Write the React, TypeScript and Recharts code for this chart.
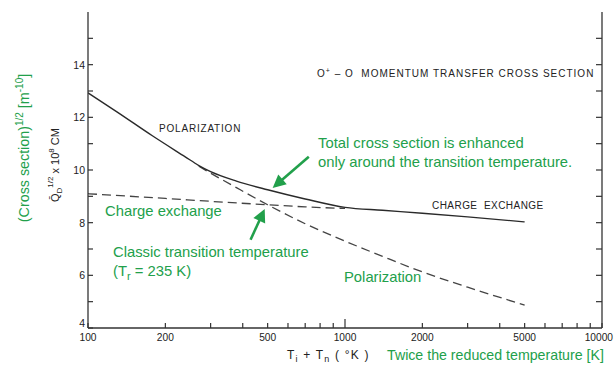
import React from 'react';
import { ComposedChart, Line, XAxis, YAxis, ReferenceLine } from 'recharts';

// ---- data ----
const totalT = [100, 130, 178, 239, 270, 300, 378, 500, 700, 1000, 1400, 2000, 3000, 5000];
const totalQ = [12.93, 12.2, 11.3, 10.5, 10.17, 9.94, 9.58, 9.25, 8.9, 8.58, 8.47, 8.36, 8.22, 8.03];

const chargeT = [100, 200, 300, 500, 700, 1000];
const chargeQ = [9.1, 8.92, 8.81, 8.68, 8.6, 8.54];

const polT = [270, 300, 378, 500, 700, 1000, 1400, 2000, 3000, 5000];
const polQ = [10.14, 9.88, 9.33, 8.68, 7.96, 7.3, 6.72, 6.13, 5.55, 4.87];

const xTicks = [100, 200, 300, 400, 500, 600, 700, 800, 900, 1000, 2000, 3000, 4000, 5000, 6000, 7000, 8000, 9000, 10000];
const xLabels = [100, 200, 500, 1000, 2000, 5000, 10000];
const yTicks = [4, 5, 6, 7, 8, 9, 10, 11, 12, 13, 14, 15, 16];
const yLabels = [4, 6, 8, 10, 12, 14];

// arrows: [tailT, tailQ, headT, headQ]
const arrowTotal = [723, 10.5, 523, 9.32];
const arrowTransition = [429, 7.35, 487, 8.52];

const GREEN = '#22a04b';
const INK = '#333333';
const TICKFONT = '"Liberation Sans", Arial, sans-serif';

const totalData = totalT.map((t, i) => ({ t, q: totalQ[i] }));
const chargeData = chargeT.map((t, i) => ({ t, q: chargeQ[i] }));
const polData = polT.map((t, i) => ({ t, q: polQ[i] }));

const BottomTick = (props: any) => {
  const { x, y, payload } = props;
  const v = payload.value;
  const len = v === 1000 ? 9 : 5;
  const isLast = v === 10000;
  return (
    <g>
      <line x1={x} y1={y} x2={x} y2={y - len} stroke={INK} strokeWidth={1.2} />
      {xLabels.includes(v) && (
        <text
          x={isLast ? 613 : x}
          y={y + 13}
          textAnchor={isLast ? 'end' : 'middle'}
          fontSize={10.2}
          fontFamily={TICKFONT}
          fill="#222"
        >
          {v}
        </text>
      )}
    </g>
  );
};

const TopTick = (props: any) => {
  const { x, y } = props;
  return <line x1={x} y1={y} x2={x} y2={y + 5} stroke={INK} strokeWidth={1.2} />;
};

const LeftTick = (props: any) => {
  const { x, y, payload } = props;
  const v = payload.value;
  if (v === 16) return <g />;
  return (
    <g>
      <line x1={x} y1={y} x2={x + 5} y2={y} stroke={INK} strokeWidth={1.2} />
      {yLabels.includes(v) && (
        <text x={x - 3} y={v === 4 ? y - 1 : y + 4} textAnchor="end" fontSize={10.5} fontFamily={TICKFONT} fill="#222">
          {v}
        </text>
      )}
    </g>
  );
};

const RightTick = (props: any) => {
  const { x, y, payload } = props;
  if (payload.value === 16 || payload.value === 4) return <g />;
  return <line x1={x} y1={y} x2={x - 6} y2={y} stroke={INK} strokeWidth={1.2} />;
};

const Arrow = (props: any) => {
  const { x1, y1, x2, y2 } = props;
  const dx = x2 - x1;
  const dy = y2 - y1;
  const L = Math.hypot(dx, dy) || 1;
  const ux = dx / L;
  const uy = dy / L;
  const hl = 13;
  const hw = 6.5;
  const bx = x2 - ux * hl;
  const by = y2 - uy * hl;
  const pts = `${x2},${y2} ${bx - uy * hw},${by + ux * hw} ${bx + uy * hw},${by - ux * hw}`;
  return (
    <g>
      <line x1={x1} y1={y1} x2={bx + ux * 2} y2={by + uy * 2} stroke={GREEN} strokeWidth={2.6} />
      <polygon points={pts} fill={GREEN} />
    </g>
  );
};

export default function App() {
  const greenFont = '"Liberation Sans", Arial, sans-serif';
  const blackFont = '"Liberation Sans", Arial, sans-serif';
  const gSize = 14.8;
  return (
    <div style={{ position: 'absolute', left: 0, top: 0, width: 615, height: 365, background: '#fff' }}>
      <ComposedChart width={615} height={365} margin={{ top: 12, right: 0, bottom: 0, left: 0 }}>
        <XAxis
          dataKey="t"
          type="number"
          scale="log"
          domain={[100, 10000]}
          ticks={xTicks}
          interval={0}
          height={37}
          tickSize={0}
          tickMargin={0}
          axisLine={{ stroke: INK, strokeWidth: 1.3 }}
          tickLine={false}
          tick={(p: any) => <BottomTick {...p} />}
          allowDataOverflow
        />
        <XAxis
          xAxisId="top"
          orientation="top"
          dataKey="t"
          type="number"
          scale="log"
          domain={[100, 10000]}
          ticks={xTicks.filter((v) => v !== 100 && v !== 10000)}
          interval={0}
          height={0}
          tickSize={0}
          tickMargin={0}
          axisLine={{ stroke: INK, strokeWidth: 1.3 }}
          tickLine={false}
          tick={(p: any) => <TopTick {...p} />}
          allowDataOverflow
        />
        <YAxis
          type="number"
          domain={[4, 16]}
          ticks={yTicks}
          interval={0}
          width={88}
          tickSize={0}
          tickMargin={0}
          axisLine={{ stroke: INK, strokeWidth: 1.3 }}
          tickLine={false}
          tick={(p: any) => <LeftTick {...p} />}
          allowDataOverflow
        />
        <YAxis
          yAxisId="right"
          orientation="right"
          type="number"
          domain={[4, 16]}
          ticks={yTicks}
          interval={0}
          width={13}
          tickSize={0}
          tickMargin={0}
          axisLine={{ stroke: INK, strokeWidth: 1.3 }}
          tickLine={false}
          tick={(p: any) => <RightTick {...p} />}
          allowDataOverflow
        />
        <Line data={chargeData} dataKey="q" stroke="#444" strokeWidth={1.3} strokeDasharray="9 5" dot={false} type="monotone" isAnimationActive={false} />
        <Line data={polData} dataKey="q" stroke="#444" strokeWidth={1.3} strokeDasharray="9 5" dot={false} type="monotone" isAnimationActive={false} />
        <Line data={totalData} dataKey="q" stroke="#2a2a2a" strokeWidth={1.4} dot={false} type="monotone" isAnimationActive={false} />
        <ReferenceLine
          segment={[{ x: arrowTotal[0], y: arrowTotal[1] }, { x: arrowTotal[2], y: arrowTotal[3] }]}
          shape={(p: any) => <Arrow {...p} />}
          ifOverflow="visible"
        />
        <ReferenceLine
          segment={[{ x: arrowTransition[0], y: arrowTransition[1] }, { x: arrowTransition[2], y: arrowTransition[3] }]}
          shape={(p: any) => <Arrow {...p} />}
          ifOverflow="visible"
        />
      </ComposedChart>
      <svg width={615} height={365} style={{ position: 'absolute', left: 0, top: 0, pointerEvents: 'none' }}>
        {/* black original labels */}
        <text x={317} y={77} fontSize={10} fontFamily={blackFont} fill="#222" letterSpacing={1.0} style={{ whiteSpace: 'pre' }}>
          O<tspan dy={-4} fontSize={7}>+</tspan>
          <tspan dy={4}>{' – O  MOMENTUM TRANSFER CROSS SECTION'}</tspan>
        </text>
        <text x={159} y={132} fontSize={10} fontFamily={blackFont} fill="#222" letterSpacing={0.8}>POLARIZATION</text>
        <text x={432} y={209} fontSize={10} fontFamily={blackFont} fill="#222" letterSpacing={0.45} style={{ whiteSpace: 'pre' }}>{'CHARGE  EXCHANGE'}</text>
        <text x={287} y={359} fontSize={12} fontFamily={blackFont} fill="#222" letterSpacing={1.2} style={{ whiteSpace: 'pre' }}>
          T<tspan dy={3} fontSize={9}>i</tspan>
          <tspan dy={-3}>{' + T'}</tspan>
          <tspan dy={3} fontSize={9}>n</tspan>
          <tspan dy={-3}>{' ( °K )'}</tspan>
        </text>
        <g transform="translate(59,165) rotate(-90)">
          <text x={0} y={0} textAnchor="middle" fontSize={11} fontFamily={blackFont} fill="#222">
            Q̄<tspan dy={3} fontSize={8}>D</tspan>
            <tspan dy={-9} fontSize={8}>1/2</tspan>
            <tspan dy={6}> x 10</tspan>
            <tspan dy={-5} fontSize={8}>8</tspan>
            <tspan dy={5}> CM</tspan>
          </text>
        </g>
        {/* green annotations */}
        <g transform="translate(29,148) rotate(-90)">
          <text x={0} y={0} textAnchor="middle" fontSize={14.3} fontFamily={greenFont} fill={GREEN}>
            (Cross section)<tspan dy={-6} fontSize={10}>1/2</tspan>
            <tspan dy={6}>{' [m'}</tspan>
            <tspan dy={-6} fontSize={10}>-10</tspan>
            <tspan dy={6}>]</tspan>
          </text>
        </g>
        <text x={387} y={360} fontSize={14.2} fontFamily={greenFont} fill={GREEN}>Twice the reduced temperature [K]</text>
        <text x={318} y={148} fontSize={gSize} fontFamily={greenFont} fill={GREEN}>Total cross section is enhanced</text>
        <text x={318} y={167} fontSize={gSize} fontFamily={greenFont} fill={GREEN}>only around the transition temperature.</text>
        <text x={105} y={216} fontSize={gSize} fontFamily={greenFont} fill={GREEN}>Charge exchange</text>
        <text x={113} y={257} fontSize={gSize} fontFamily={greenFont} fill={GREEN}>Classic transition temperature</text>
        <text x={113} y={276} fontSize={gSize} fontFamily={greenFont} fill={GREEN}>
          (T<tspan dy={4} fontSize={11}>r</tspan>
          <tspan dy={-4}>{' = 235 K)'}</tspan>
        </text>
        <text x={344} y={282} fontSize={gSize} fontFamily={greenFont} fill={GREEN}>Polarization</text>
      </svg>
    </div>
  );
}
